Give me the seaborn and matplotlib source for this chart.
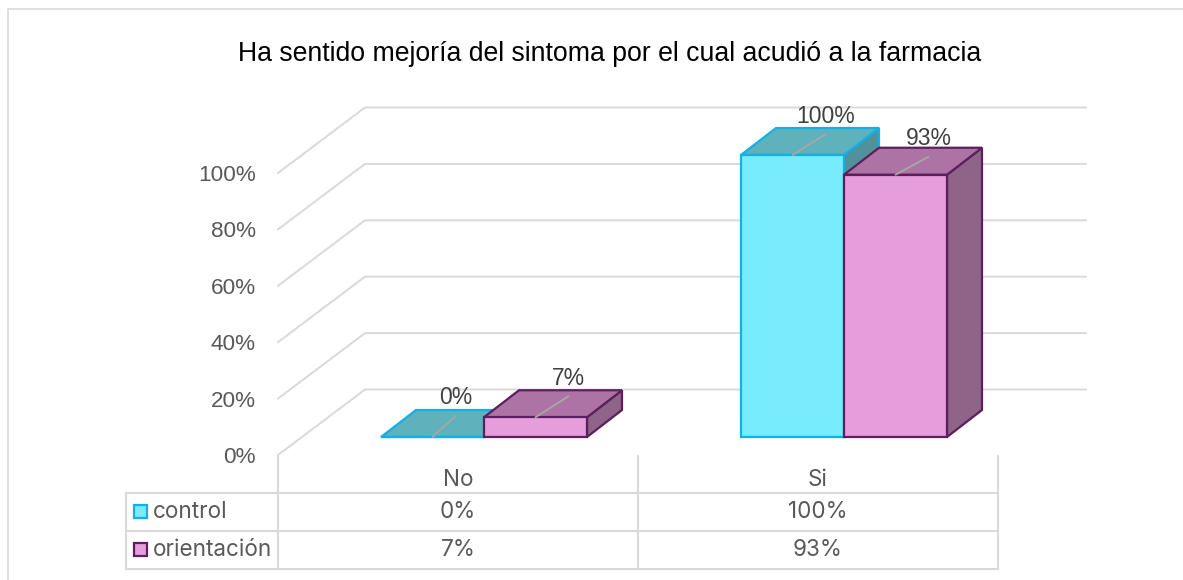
import pandas as pd
import seaborn as sns
import matplotlib.pyplot as plt
from matplotlib.patches import Polygon, Rectangle

# Values
categories = ['No', 'Si']
series_names = ['control', 'orientación']
control_values = [0, 100]
orientacion_values = [7, 93]
y_ticks = [0, 20, 40, 60, 80, 100]
title_text = 'Ha sentido mejoría del sintoma por el cual acudió a la farmacia'

front_colors = ['#78EBFC', '#E69DDB']
top_colors = ['#5FB1BB', '#AD73A4']
side_colors = ['#4F929B', '#8F6488']
edge_colors = ['#12B0E8', '#5B1F5E']
grid_color = '#D9D9D9'
text_color = '#595959'

df = pd.DataFrame({
    'categoria': categories * 2,
    'serie': [series_names[0]] * 2 + [series_names[1]] * 2,
    'valor': control_values + orientacion_values,
})

W, H = 1183, 580
x_unit = 360  # pixels per category
y_unit = 2.82  # pixels per percent
x0, y0 = 484, 437  # pixel of category 0 / value 0 on the bar plane


def px(x):
    return (x - x0) / x_unit


def py(y):
    return (y0 - y) / y_unit


sns.set_theme(style='white')
plt.rcParams['font.family'] = ['Liberation Sans', 'DejaVu Sans']

fig = plt.figure(figsize=(W / 100, H / 100), dpi=100)
ax = fig.add_axes([0, 0, 1, 1])

sns.barplot(data=df, x='categoria', y='valor', hue='serie', order=categories,
            hue_order=series_names, palette=front_colors, saturation=1,
            width=206 / x_unit, gap=0, legend=False, ax=ax, zorder=5)

ax.set_xlim(px(0), px(W))
ax.set_ylim(py(H), py(0))
ax.axis('off')

# depth of the bars and of the walls, in data units
bar_dx, bar_dy = 35 / x_unit, 27 / y_unit
front_dx, front_dy = -26 / x_unit, -18 / y_unit
wall_left = -0.5 + front_dx

# outer frame of the picture
ax.plot([px(8), px(8), px(1183)], [py(580), py(9), py(9)], color=grid_color, lw=1.2, zorder=1)

# walls
for v in y_ticks:
    fy = v + front_dy
    ax.plot([wall_left, wall_left + 87 / x_unit, px(1086)],
            [fy, fy + 65.5 / y_unit, fy + 65.5 / y_unit], color=grid_color, lw=1.4, zorder=1)
    ax.text(wall_left - 22.5 / x_unit, fy - 2.5 / y_unit, f'{v}%', ha='right', va='center',
            fontsize=16.2, color=text_color)

# 3d faces on top of the seaborn bars
for s, container in enumerate(ax.containers):
    z = 5 + s * 2
    for bar, value in zip(container, [control_values, orientacion_values][s]):
        bar.set_edgecolor(edge_colors[s])
        bar.set_linewidth(1.6)
        bar.set_zorder(z + 1)
        left = bar.get_x()
        right = left + bar.get_width()
        top_face = [(left, value), (right, value), (right + bar_dx, value + bar_dy),
                    (left + bar_dx, value + bar_dy)]
        side_face = [(right, 0), (right + bar_dx, bar_dy),
                     (right + bar_dx, value + bar_dy), (right, value)]
        ax.add_patch(Polygon(side_face, fc=side_colors[s], ec=edge_colors[s], lw=1.6, zorder=z))
        ax.add_patch(Polygon(top_face, fc=top_colors[s], ec=edge_colors[s], lw=1.6, zorder=z))
        # leader line and data label, the excel leaders are not all the same length
        mid = (left + right) / 2
        end_x = mid + (23 if value == 0 else 33) / x_unit
        end_y = value + (18 if value == 93 else 21) / y_unit
        ax.plot([mid, end_x], [value, end_y], color='#A6A6A6', lw=1.4, zorder=20)
        lift = 36 if value == 93 else 39
        ax.text(end_x, value + lift / y_unit, f'{value}%', ha='center', va='center',
                fontsize=16.5, color='#404040', zorder=21)

ax.text(px(610), py(54), title_text, ha='center', va='center', fontsize=19.2, color='black')

# data table under the chart
table_font = ['Inter', 'DejaVu Sans']
row_y = [py(493), py(531), py(569)]
col_x = [-0.5 + front_dx + i for i in range(3)]
for y in row_y:
    ax.plot([px(126), col_x[2]], [y, y], color=grid_color, lw=1.5, zorder=1)
for x in col_x:
    ax.plot([x, x], [py(456), row_y[2]], color=grid_color, lw=1.5, zorder=1)
ax.plot([px(126), px(126)], [row_y[0], row_y[2]], color=grid_color, lw=1.5, zorder=1)

for i, cat in enumerate(categories):
    center = i + front_dx
    ax.text(center, py(479.5), cat, ha='center', va='center', fontsize=16.2,
            color=text_color, family=table_font)
    ax.text(center, py(512), f'{control_values[i]}%', ha='center', va='center', fontsize=16.2,
            color=text_color, family=table_font)
    ax.text(center, py(550), f'{orientacion_values[i]}%', ha='center', va='center', fontsize=16.2,
            color=text_color, family=table_font)

for s, name in enumerate(series_names):
    ymid = 511 + s * 38
    ax.add_patch(Rectangle((px(134), py(ymid + 7)), 13 / x_unit, 13 / y_unit,
                           fc=front_colors[s], ec=edge_colors[s], lw=1.6))
    ax.text(px(153), py(ymid + 0.5), name, ha='left', va='center', fontsize=16.2,
            color=text_color, family=table_font)

fig.savefig('out.png', dpi=100)
